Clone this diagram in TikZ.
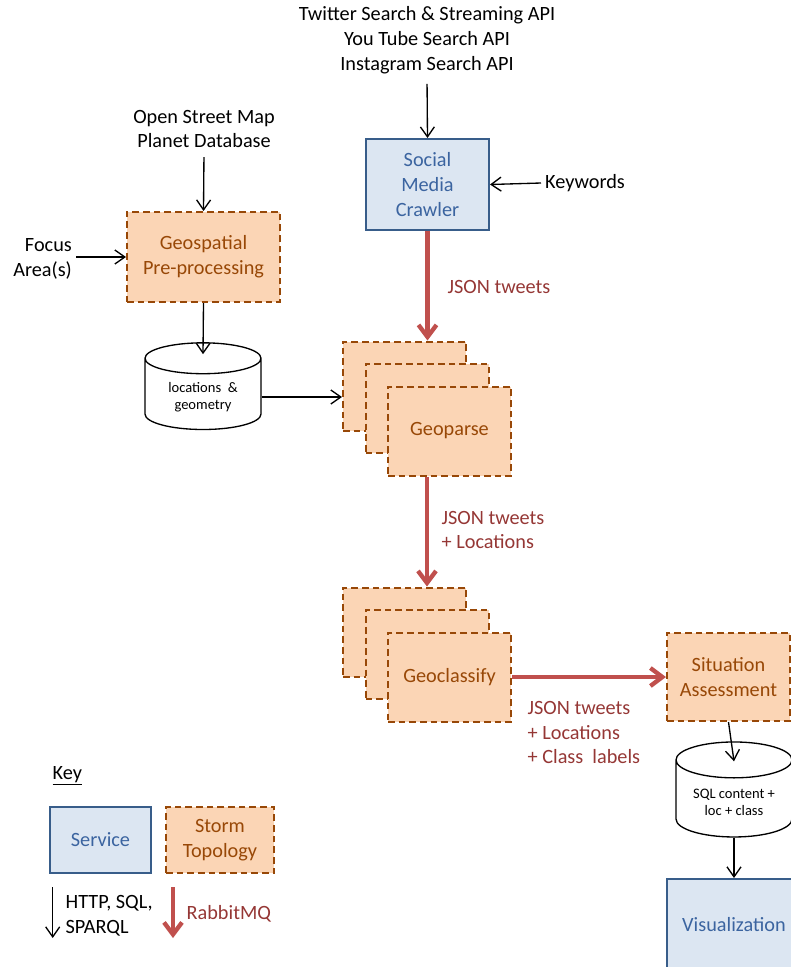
\documentclass[tikz,border=0pt]{standalone}
\usepackage{fontspec}
\setmainfont{Carlito}
\usetikzlibrary{arrows.meta,shapes.geometric}
\definecolor{stormfill}{HTML}{FBD5B5}
\definecolor{stormline}{HTML}{984807}
\definecolor{servfill}{HTML}{DCE6F2}
\definecolor{servline}{HTML}{385D8A}
\definecolor{servtext}{HTML}{3B64A0}
\definecolor{mqred}{HTML}{C0504D}
\definecolor{mqtext}{HTML}{953735}
\tikzset{
  service/.style={draw=servline, line width=0.06cm, fill=servfill, text=servtext, align=center, inner sep=0},
  storm/.style={draw=stormline, line width=0.06cm, dash pattern=on 0.2cm off 0.12cm, fill=stormfill, text=stormline, align=center, inner sep=0},
  dbase/.style={cylinder, shape border rotate=90, aspect=0.4, draw, line width=0.04cm, fill=white, align=center, font=\fontsize{12.4}{14.5}\selectfont},
  call/.style={-{Straight Barb[length=0.3cm,width=0.42cm]}, line width=0.04cm},
  mq/.style={-{Straight Barb[length=0.36cm,width=0.54cm]}, line width=0.13cm, draw=mqred},
  mqlabel/.style={text=mqtext, align=left, anchor=west}
}
\begin{document}
\begin{tikzpicture}[x=0.03cm, y=-0.03cm, font=\fontsize{17.3}{21.2}\selectfont]
  \clip (0,0) rectangle (791,967);
  % sources
  \node[align=center] (twitter) at (427,40) {Twitter Search \& Streaming API\\You Tube Search API\\Instagram Search API};
  \node[align=center] (osm) at (204,129) {Open Street Map\\Planet Database};
  \node[align=right, anchor=east] (focus) at (76,258.5) {Focus\\Area(s)};
  \node[anchor=west] (keywords) at (541,183) {Keywords};
  % services and topologies
  \node[service, minimum width=3.69cm, minimum height=2.73cm] (crawler) at (427.5,184.5) {Social\\Media\\Crawler};
  \node[storm, minimum width=4.59cm, minimum height=2.7cm] (geo) at (203.5,257) {Geospatial\\Pre-processing};
  \node[dbase, minimum width=3.48cm, minimum height=2.6cm] (locdb) at (203,397) {locations \ \&\\geometry};
  % geoparse stack
  \node[storm, minimum width=3.69cm, minimum height=2.67cm] (pb) at (404.5,386) {};
  \node[storm, minimum width=3.69cm, minimum height=2.67cm] (pm) at (427,408.5) {};
  \node[storm, minimum width=3.69cm, minimum height=2.67cm] (pf) at (449.5,431) {Geoparse};
  % geoclassify stack
  \node[storm, minimum width=3.69cm, minimum height=2.67cm] (cb) at (404.5,632) {};
  \node[storm, minimum width=3.69cm, minimum height=2.67cm] (cm) at (427,654.5) {};
  \node[storm, minimum width=3.69cm, minimum height=2.67cm] (cf) at (449.5,677) {Geoclassify};
  \node[storm, minimum width=3.69cm, minimum height=2.64cm] (sit) at (728.5,677) {Situation\\Assessment};
  \node[dbase, minimum width=3.48cm, minimum height=2.85cm] (sqldb) at (734,802) {SQL content +\\loc + class};
  \node[service, minimum width=4.02cm, minimum height=2.76cm] (vis) at (734,925) {Visualization};
  % message labels
  \node[mqlabel] (lab1) at (443.5,287) {JSON tweets};
  \node[mqlabel] (lab2) at (437.5,530) {JSON tweets\\+ Locations};
  \node[mqlabel] (lab3) at (523.5,732.5) {JSON tweets\\+ Locations\\+ Class\ \ labels};
  % key
  \node[anchor=west] (key) at (48.5,776) {\underline{Key}};
  \node[service, minimum width=3.03cm, minimum height=1.98cm] (kserv) at (100.5,840) {Service};
  \node[storm, minimum width=3.24cm, minimum height=1.98cm] (kstorm) at (220,840) {Storm\\Topology};
  \node[align=left, anchor=west] (khttp) at (61.5,915.5) {HTTP, SQL,\\SPARQL};
  \node[mqlabel] (krabbit) at (182.5,914) {RabbitMQ};
  \coordinate (k1a) at (52.7,887);
  \coordinate (k1b) at (52.7,938);
  \coordinate (k2a) at (173,887);
  \coordinate (k2b) at (173,938);
  \coordinate (locin) at ([yshift=-0.36cm]locdb.north);
  \coordinate (sqlin) at ([yshift=-0.6cm]sqldb.north);
  % connectors
  \draw[call, shorten <=0.18cm] (twitter.south) -- (crawler.north);
  \draw[call] (keywords.west) -- (crawler.east);
  \draw[call, shorten <=0.15cm] (osm.south) -- (geo.north);
  \draw[call] (focus.east |- geo) -- (geo.west);
  \draw[call] (geo.south) -- (locin);
  \draw[call] (locdb.east) -- (locdb.east -| pb.west);
  \draw[mq] (crawler.south) -- (crawler.south |- pb.north);
  \draw[mq] (pm.south |- pf.south) -- (pm.south |- cb.north);
  \draw[mq] (cf.east) -- (sit.west);
  \draw[call] (sit.south) -- (sqlin);
  \draw[call] (sqldb.south) -- (vis.north);
  \draw[call] (k1a) -- (k1b);
  \draw[mq] (k2a) -- (k2b);
\end{tikzpicture}
\end{document}
